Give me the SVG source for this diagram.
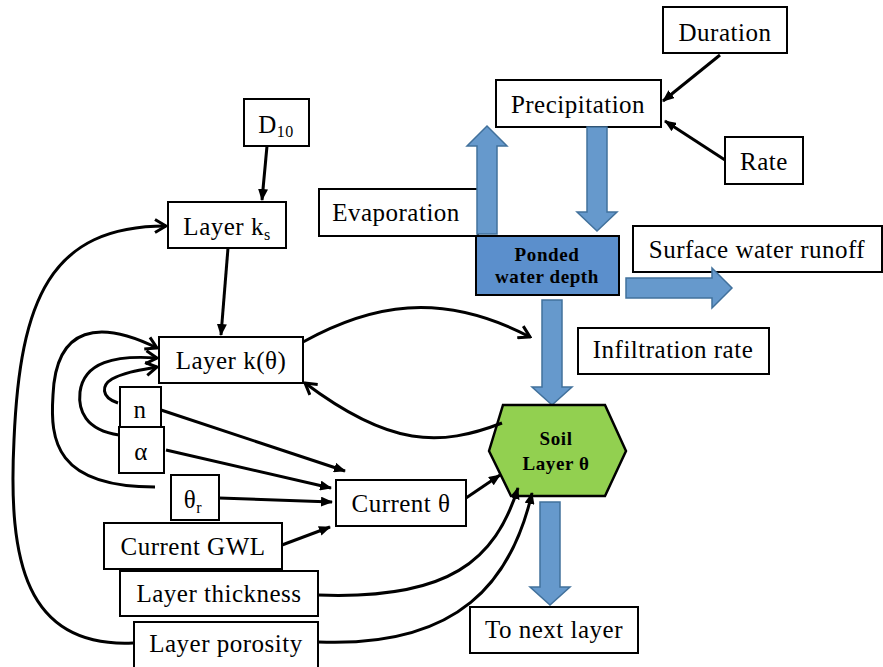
<svg xmlns="http://www.w3.org/2000/svg" width="883" height="667" viewBox="0 0 883 667">
<defs>
<marker id="tri" markerUnits="userSpaceOnUse" viewBox="0 0 12 10" refX="11" refY="5" markerWidth="12" markerHeight="10" orient="auto">
<path d="M0,0 L12,5 L0,10 z" fill="#000"/>
</marker>
<marker id="chev" markerUnits="userSpaceOnUse" viewBox="0 0 14 16" refX="12" refY="8" markerWidth="14" markerHeight="16" orient="auto">
<path d="M1,1.5 L12,8 L1,14.5" fill="none" stroke="#000" stroke-width="3"/>
</marker>
<style>
.box{fill:#fff;stroke:#000;stroke-width:2}
.t{font-family:"Liberation Serif","Times New Roman","DejaVu Serif",serif;font-size:25px;letter-spacing:0.5px;fill:#000;text-anchor:middle}
.tb{font-family:"Liberation Serif","Times New Roman","DejaVu Serif",serif;font-size:19px;letter-spacing:0.6px;font-weight:bold;fill:#000;text-anchor:middle}
.blk{fill:#6699cc;stroke:#41719c;stroke-width:1.5}
.ct{fill:none;stroke:#000;stroke-width:3;marker-end:url(#tri)}
.cc{fill:none;stroke:#000;stroke-width:3;marker-end:url(#chev)}
</style>
</defs>
<rect width="883" height="667" fill="#fff"/>

<g id="duration"><rect class="box" x="663" y="7" width="124" height="46"/><text class="t" x="725" y="41">Duration</text></g>
<g id="precipitation"><rect class="box" x="496" y="80" width="165" height="47"/><text class="t" x="578" y="113">Precipitation</text></g>
<g id="rate"><rect class="box" x="725" y="137" width="78" height="47"/><text class="t" x="764" y="170">Rate</text></g>
<g id="evaporation"><rect class="box" x="319" y="189" width="159" height="47"/><text class="t" x="396" y="221">Evaporation</text></g>
<g id="runoff"><rect class="box" x="633" y="226" width="249" height="46"/><text class="t" x="757" y="258">Surface water runoff</text></g>
<g id="infiltration"><rect class="box" x="578" y="328" width="191" height="46"/><text class="t" x="673" y="358">Infiltration rate</text></g>
<g id="nextlayer"><rect class="box" x="470" y="607" width="168" height="46"/><text class="t" x="554" y="638">To next layer</text></g>
<g id="d10"><rect class="box" x="244" y="99" width="65" height="47"/><text class="t" x="276" y="133">D<tspan font-size="16" dy="4">10</tspan></text></g>
<g id="layerks"><rect class="box" x="168" y="202" width="118" height="46"/><text class="t" x="227" y="235">Layer k<tspan font-size="16" dy="5">s</tspan></text></g>
<g id="layerktheta"><rect class="box" x="159" y="337" width="144" height="46"/><text class="t" x="231" y="369">Layer k(θ)</text></g>
<g id="n"><rect class="box" x="120" y="387" width="41" height="40"/><text class="t" x="140" y="418">n</text></g>
<g id="alpha"><rect class="box" x="119" y="427" width="45" height="46"/><text class="t" x="141" y="460">α</text></g>
<g id="thetar"><rect class="box" x="171" y="475" width="48" height="45"/><text class="t" x="193" y="508">θ<tspan font-size="16" dy="5">r</tspan></text></g>
<g id="gwl"><rect class="box" x="104" y="523" width="178" height="46"/><text class="t" x="193" y="555">Current GWL</text></g>
<g id="thickness"><rect class="box" x="120" y="571" width="198" height="45"/><text class="t" x="219" y="602">Layer thickness</text></g>
<g id="porosity"><rect class="box" x="134" y="622" width="184" height="48"/><text class="t" x="226" y="652">Layer porosity</text></g>
<g id="currenttheta"><rect class="box" x="336" y="480" width="130" height="46"/><text class="t" x="401" y="512">Current θ</text></g>

<g id="flows">
<polygon class="blk" points="477,234 477,146 467,146 487,126 507,146 497,146 497,234"/>
<polygon class="blk" points="587,127 607,127 607,212 617,212 597,231 577,212 587,212"/>
<polygon class="blk" points="626,278 712,278 712,268 732,288 712,308 712,298 626,298"/>
<polygon class="blk" points="542,300 562,300 562,387 572,387 552,405 532,387 542,387"/>
<polygon class="blk" points="540,502 560,502 560,587 570,587 550,605 530,587 540,587"/>
</g>

<g id="ponded"><rect x="476" y="236" width="143" height="59" fill="#5b8fcc" stroke="#000" stroke-width="2"/><text class="tb" x="547" y="261">Ponded</text><text class="tb" x="547" y="283">water depth</text></g>
<g id="soil"><polygon points="489,451 503,405 605,405 626,451 605,496 511,496" fill="#92d050" stroke="#000" stroke-width="2.5"/><text class="tb" x="556" y="445">Soil</text><text class="tb" x="556" y="470">Layer θ</text></g>

<g id="connectors">
<path class="ct" d="M720,55 L663,101"/>
<path class="ct" d="M725,160 L665,121"/>
<path class="ct" d="M267,146 L262,200"/>
<path class="ct" d="M228,248 L221,335"/>
<path class="cc" d="M133,643 C25,648 8,560 14,440 C20,300 50,226 166,226"/>
<path class="cc" d="M155,487 C55,487 50,440 53,395 C56,325 100,320 157,348"/>
<path class="cc" d="M119,435 C85,430 78,410 80,392 C84,362 115,355 157,358"/>
<path class="cc" d="M118,403 C100,397 102,385 112,379 C125,372 140,370 157,367"/>
<path class="ct" d="M161,410 L345,471"/>
<path class="ct" d="M166,450 L331,488"/>
<path class="ct" d="M219,498 L332,502"/>
<path class="ct" d="M282,545 L330,527"/>
<path class="ct" d="M466,498 L500,475"/>
<path class="cc" d="M303,342 C370,305 440,290 530,337"/>
<path class="cc" d="M502,423 C440,447 390,447 305,383"/>
<path class="ct" d="M318,595 C450,600 495,560 518,488"/>
<path class="ct" d="M318,642 C460,648 512,580 532,493"/>
</g>
</svg>
